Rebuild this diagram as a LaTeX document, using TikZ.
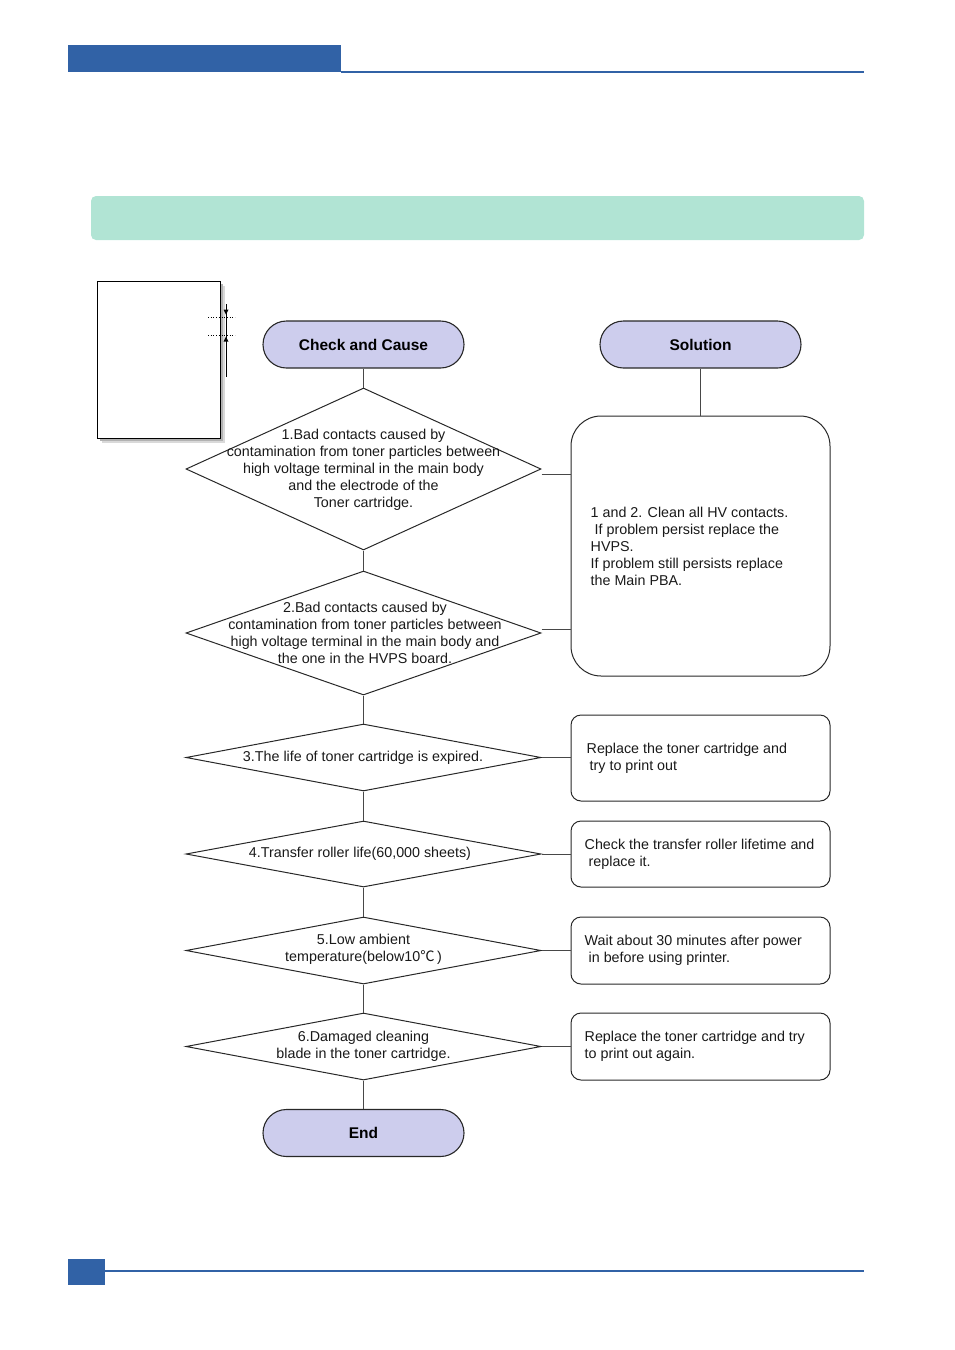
\documentclass[tikz,border=0pt]{standalone}
\usepackage{fontspec}
\setmainfont{Liberation Sans}
\newfontfamily\cjk{Noto Sans CJK SC}
\usetikzlibrary{shapes.geometric}
\definecolor{hdrblue}{RGB}{49,98,166}
\definecolor{bannergreen}{RGB}{177,228,212}
\definecolor{lav}{RGB}{205,205,237}
\definecolor{edgec}{RGB}{40,40,40}
\begin{document}
\begin{tikzpicture}[x=1pt,y=-1pt,
 termbox/.style={draw=edgec, line width=1.1pt, fill=lav, rounded corners=23.5pt, minimum width=201pt, minimum height=47pt, inner sep=0pt, font=\fontsize{15.5}{18}\selectfont\bfseries},
 dia/.style={draw=edgec, line width=1pt, diamond, inner sep=0pt, minimum width=355pt},
 solbox/.style={draw=edgec, line width=1pt, rounded corners=10pt, minimum width=259pt, inner sep=0pt},
 txt/.style={font=\fontsize{14.3}{17}\selectfont, align=center, inner sep=0pt, text=black!90},
 ltxt/.style={txt, align=left, anchor=west},
 conn/.style={draw=edgec!85, line width=0.9pt}]
\useasboundingbox (0,0) rectangle (954,1350);
% header and footer decorations
\fill[hdrblue] (68,45) rectangle (341,72);
\draw[hdrblue, line width=1.3pt] (341,72) -- (864,72);
\fill[bannergreen] (91,196) [rounded corners=5pt] rectangle (864,240);
\fill[hdrblue] (68,1259) rectangle (105,1285);
\draw[hdrblue, line width=1.3pt] (105,1271) -- (864,1271);
% paper figure
\fill[gray!30] (101.5,285.5) rectangle (225,443);
\fill[gray!60] (99.5,283.5) rectangle (223,441);
\draw[fill=white, line width=0.8pt] (97,281) rectangle (220,438);
\draw[line width=1pt] (226,304) -- (226,377);
\draw[dotted, line width=0.7pt] (208,317) -- (235,317);
\draw[dotted, line width=0.7pt] (208,335) -- (235,335);
\fill (223.5,309.5) -- (228.5,309.5) -- (226,314.5) -- cycle;
\fill (223.5,341.5) -- (228.5,341.5) -- (226,336.5) -- cycle;
% terminals
\node[termbox] (cc) at (363.5,344.5) {Check and Cause};
\node[termbox] (sol) at (700.5,344.5) {Solution};
\node[termbox] (end) at (363.5,1133) {End};
% diamonds
\node[dia, minimum height=162pt] (d1) at (363.5,469) {};
\node[dia, minimum height=124pt] (d2) at (363.5,633) {};
\node[dia, minimum height=67pt] (d3) at (363.5,757.5) {};
\node[dia, minimum height=66pt] (d4) at (363.5,854) {};
\node[dia, minimum height=67pt] (d5) at (363.5,950.5) {};
\node[dia, minimum height=67pt] (d6) at (363.5,1046.5) {};
\node[txt] (t1) at (363.5,470) {1.Bad contacts caused by\\contamination from toner particles between\\high voltage terminal in the main body\\and the electrode of the\\Toner cartridge.};
\node[txt] (t2) at (365,633) {2.Bad contacts caused by\\contamination from toner particles between\\high voltage terminal in the main body and\\the one in the HVPS board.};
\node[txt] (t3) at (363,757.5) {3.The life of toner cartridge is expired.};
\node[txt] (t4) at (360,854) {4.Transfer roller life(60,000 sheets)};
\node[txt] (t5) at (363.5,949.5) {5.Low ambient\\temperature(below10{\cjk ℃}\,)};
\node[txt] (t6) at (363.5,1046) {6.Damaged cleaning\\blade in the toner cartridge.};
% solution boxes
\node[solbox, rounded corners=30pt, minimum height=260pt] (b1) at (700.5,546) {};
\node[solbox, minimum height=86pt] (b3) at (700.5,758) {};
\node[solbox, minimum height=66pt] (b4) at (700.5,854) {};
\node[solbox, minimum height=67pt] (b5) at (700.5,950.5) {};
\node[solbox, minimum height=67pt] (b6) at (700.5,1046.5) {};
\node[ltxt] (s1) at ([xshift=20pt]b1.west) {1 and 2. Clean all HV contacts.\\\hspace*{4pt}If problem persist replace the\\HVPS.\\If problem still persists replace\\the Main PBA.};
\node[ltxt] (s3) at ([xshift=16pt,yshift=-0.5pt]b3.west) {Replace the toner cartridge and\\\hspace*{3pt}try to print out};
\node[ltxt] (s4) at ([xshift=14pt]b4.west) {Check the transfer roller lifetime and\\\hspace*{4pt}replace it.};
\node[ltxt] (s5) at ([xshift=14pt]b5.west) {Wait about 30 minutes after power\\\hspace*{4pt}in before using printer.};
\node[ltxt] (s6) at ([xshift=14pt]b6.west) {Replace the toner cartridge and try\\to print out again.};
% connectors
\draw[conn] (cc.south) -- (d1.north);
\draw[conn] (d1.south) -- (d2.north);
\draw[conn] (d2.south) -- (d3.north);
\draw[conn] (d3.south) -- (d4.north);
\draw[conn] (d4.south) -- (d5.north);
\draw[conn] (d5.south) -- (d6.north);
\draw[conn] (d6.south) -- (end.north);
\draw[conn] (sol.south) -- (b1.north);
\draw[conn] ([yshift=-5pt]d1.east) -- ([yshift=-5pt]d1.east -| b1.west);
\draw[conn] ([yshift=4pt]d2.east) -- ([yshift=4pt]d2.east -| b1.west);
\draw[conn] (d3.east) -- (d3.east -| b3.west);
\draw[conn] (d4.east) -- (d4.east -| b4.west);
\draw[conn] (d5.east) -- (d5.east -| b5.west);
\draw[conn] (d6.east) -- (d6.east -| b6.west);
\end{tikzpicture}
\end{document}
